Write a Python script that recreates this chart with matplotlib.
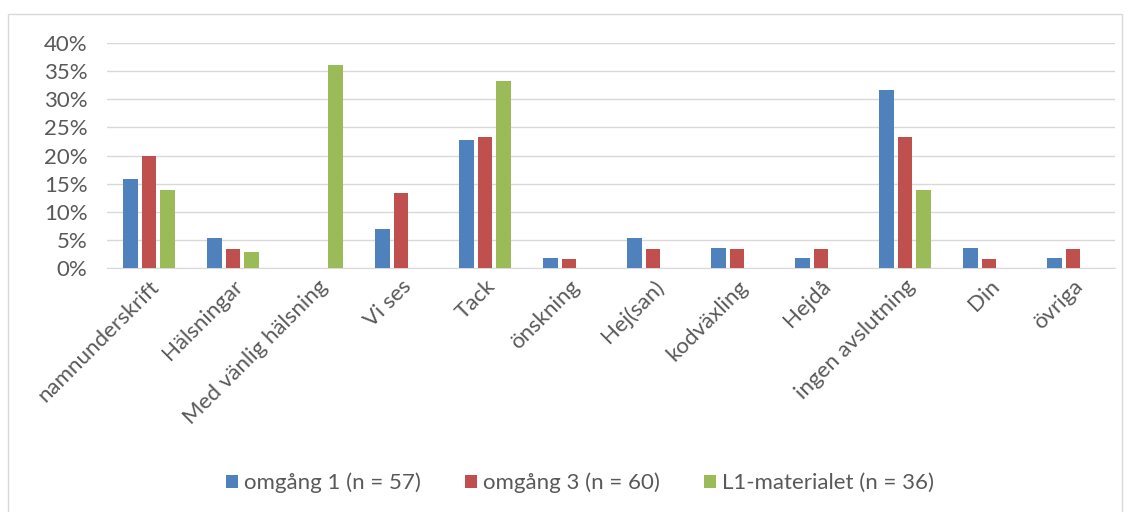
import matplotlib.pyplot as plt
import matplotlib.patches as mpatches
import numpy as np
from matplotlib.ticker import FuncFormatter

categories = ["namnunderskrift", "Hälsningar", "Med vänlig hälsning", "Vi ses", "Tack",
              "önskning", "Hej(san)", "kodväxling", "Hejdå", "ingen avslutning", "Din", "övriga"]
omgang1 = [15.8, 5.3, 0, 7.0, 22.8, 1.75, 5.3, 3.5, 1.75, 31.6, 3.5, 1.75]
omgang3 = [20.0, 3.3, 0, 13.3, 23.3, 1.67, 3.3, 3.3, 3.3, 23.3, 1.67, 3.3]
l1_mat = [13.9, 2.8, 36.1, 0, 33.3, 0, 0, 0, 0, 13.9, 0, 0]
series_names = ["omgång 1 (n = 57)", "omgång 3 (n = 60)", "L1-materialet (n = 36)"]
colors = ["#4f81bd", "#c0504d", "#9bbb59"]

plt.rcParams['font.family'] = ['Lato', 'DejaVu Sans']
txt = "#595959"
fs = 16

fig = plt.figure(figsize=(11.3, 5.12), dpi=100)
ax = fig.add_axes([107 / 1130, 1 - 268 / 512, (1115 - 107) / 1130, (268 - 43) / 512])

# outer chart frame
fig.patches.append(mpatches.Rectangle((8 / 1130, -0.01), (1122 - 8) / 1130, (512 - 14) / 512 + 0.01,
                                      transform=fig.transFigure, fill=False,
                                      edgecolor="#d9d9d9", linewidth=1))

x = np.arange(len(categories))
w = 0.175
step = 0.22
for i, (vals, name) in enumerate(zip([omgang1, omgang3, l1_mat], series_names)):
    ax.bar(x + (i - 1) * step, vals, width=w, color=colors[i], label=name, zorder=3)

ax.set_xlim(-0.5, len(categories) - 0.5)
ax.set_ylim(0, 40)
ax.set_yticks(range(0, 41, 5))
ax.yaxis.set_major_formatter(FuncFormatter(lambda v, p: f"{v:.0f}%"))
ax.grid(axis='y', color="#d9d9d9", linewidth=1, zorder=0)
for s in ["top", "right", "left"]:
    ax.spines[s].set_visible(False)
ax.spines["bottom"].set_color("#d9d9d9")
ax.tick_params(axis='both', length=0, colors=txt, labelsize=fs)
ax.tick_params(axis='y', pad=14)
ax.set_xticks(x)
ax.set_xticklabels(categories, rotation=45, ha='right', rotation_mode='anchor')
ax.tick_params(axis='x', pad=6)

fig.legend(loc='center', bbox_to_anchor=(580 / 1130, 1 - 483 / 512), ncol=3, frameon=False,
           fontsize=fs, labelcolor=txt, handlelength=0.55, handleheight=0.55,
           handletextpad=0.25, columnspacing=2.0)

fig.savefig("out.png", dpi=100)
